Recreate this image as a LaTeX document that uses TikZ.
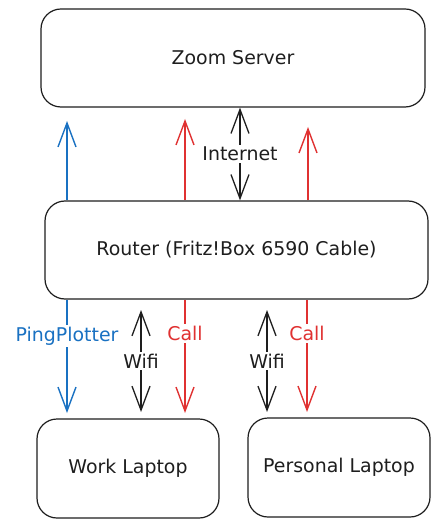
\documentclass[tikz,border=0pt]{standalone}
\usepackage{fontspec}
\setmainfont{DejaVu Sans}
\usetikzlibrary{arrows.meta}
\definecolor{exblue}{HTML}{1971C2}
\definecolor{exred}{HTML}{E03131}
\definecolor{exink}{HTML}{1E1E1E}
\begin{document}
\begin{tikzpicture}[x=1bp,y=-1bp,
  box/.style={draw=exink, line width=1.2bp, rounded corners=20bp, align=center, font=\fontsize{19}{23}\selectfont, text=exink, inner sep=0pt},
  arr/.style={line width=1.4bp, -{Straight Barb[length=24bp 0,width=18bp 0]}},
  dbl/.style={line width=1.3bp, {Straight Barb[length=24bp 0,width=18bp 0]}-{Straight Barb[length=24bp 0,width=18bp 0]}},
  lbl/.style={fill=white, inner sep=2bp, font=\fontsize{19}{23}\selectfont}
]
\useasboundingbox (0,0) rectangle (440,528);
\fill[white] (0,0) rectangle (440,528);

\node[box, minimum width=384bp, minimum height=98bp] (zoom) at (233,58) {Zoom Server};
\node[box, minimum width=383bp, minimum height=98bp] (router) at (236.5,250) {Router (Fritz!Box 6590 Cable)};
\node[box, minimum width=182bp, minimum height=99bp] (work) at (128,468.5) {Work Laptop};
\node[box, minimum width=182bp, minimum height=99bp] (personal) at (339,467.5) {Personal Laptop};

\coordinate (bU) at (67,121);
\coordinate (bD) at (67,413);
\coordinate (r1U) at (185,119);
\coordinate (r1D) at (185,413);
\coordinate (iX) at (240,0);
\coordinate (r2U) at (308,127);
\coordinate (r2D) at (307,412);
\coordinate (w1a) at (141,310);
\coordinate (w1b) at (141,412);
\coordinate (w2a) at (267,310);
\coordinate (w2b) at (267,412);

% upper links
\draw[arr, exblue] (router.north -| bU) -- (bU);
\draw[arr, exred] (router.north -| r1U) -- (r1U);
\draw[arr, exred] (router.north -| r2U) -- (r2U);
\draw[dbl, exink] (zoom.south -| iX) -- node[lbl, text=exink] {Internet} (router.north -| iX);

% lower links
\draw[arr, exblue] (router.south -| bD) -- node[lbl, text=exblue, pos=0.32] {PingPlotter} (bD);
\draw[arr, exred] (router.south -| r1D) -- node[lbl, text=exred, pos=0.3] {Call} (r1D);
\draw[arr, exred] (router.south -| r2D) -- node[lbl, text=exred, pos=0.3] {Call} (r2D);
\draw[dbl, exink] (w1a) -- node[lbl, text=exink] {Wifi} (w1b);
\draw[dbl, exink] (w2a) -- node[lbl, text=exink] {Wifi} (w2b);
\end{tikzpicture}
\end{document}
